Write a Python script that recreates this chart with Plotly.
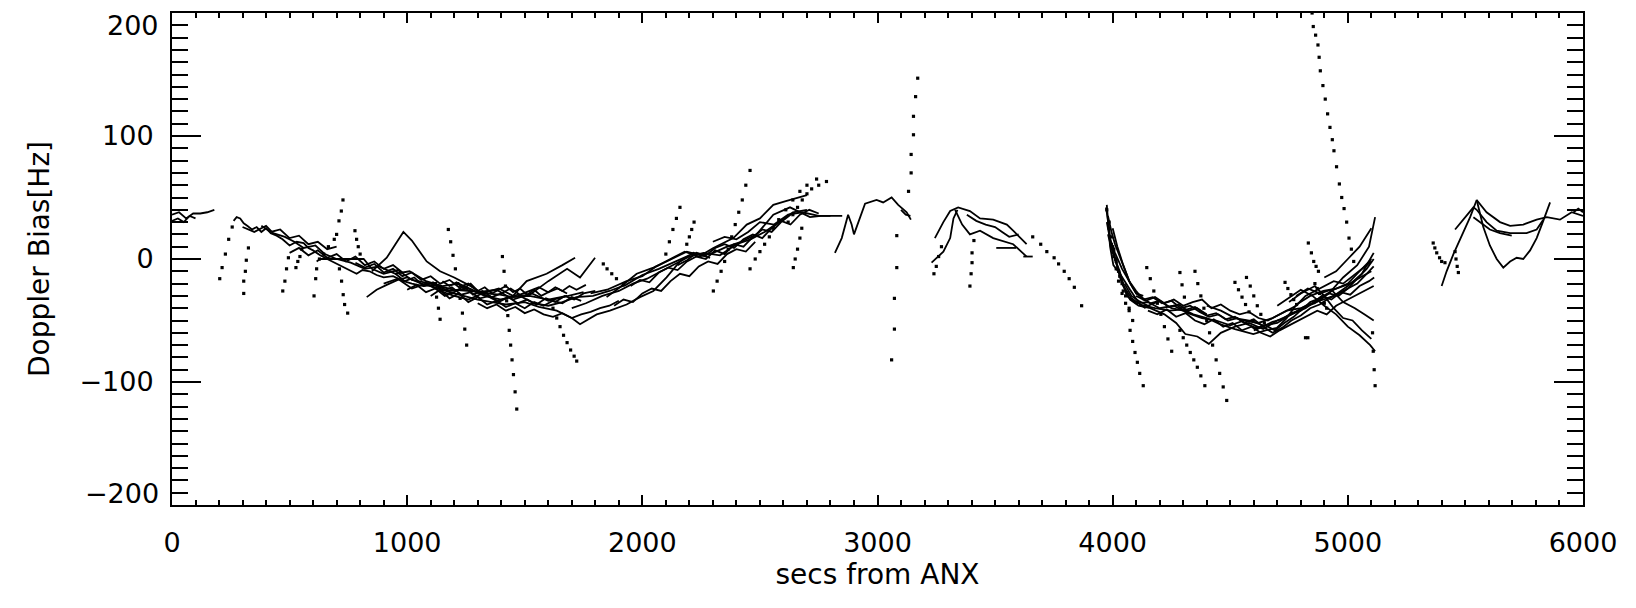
import plotly.graph_objects as go

# ---------------- solid (densely sampled) passes ----------------
# region 0 - 200 s
s01_x = [0, 30, 60, 90, 120, 150, 180]
s01_y = [36, 38, 33, 37, 37, 38, 40]
s02_x = [0, 25, 50, 75, 100]
s02_y = [31, 33, 30, 35, 33]

# region 260 - 2850 s
s03_x = [262, 275, 290, 305, 320, 340, 360, 380, 400, 420, 445, 470, 500, 530, 560, 580, 600, 630, 660, 690, 730, 760, 785, 810, 840, 870, 900, 940, 985, 1020, 1070, 1110, 1155, 1200, 1270, 1330, 1395, 1450, 1520, 1600, 1680]
s03_y = [31, 34, 33, 29, 27, 24, 26, 22, 25, 21, 19, 16, 11, 14, 13, 9, 7, 3, 0, -3, -7, -10, -12, -9, -10, -13, -15, -14, -18, -20, -22, -21, -23, -25, -26, -28, -29, -31, -30, -33, -30]
s04_x = [300, 350, 400, 430, 480, 520, 560, 610, 650, 700, 760, 820, 880, 950, 1010, 1080, 1150, 1220, 1300, 1380, 1450, 1530, 1600, 1680, 1750]
s04_y = [26, 22, 27, 21, 18, 14, 9, 11, 4, 0, -3, -8, -6, -12, -10, -18, -22, -20, -27, -25, -33, -28, -34, -30, -27]
s05_x = [615, 630, 700, 760, 815, 850, 900, 960, 1020, 1100, 1180, 1260, 1330, 1400, 1470, 1540, 1600, 1660, 1720, 1790, 1860, 1930, 2000, 2070, 2140, 2200]
s05_y = [-2, 0, 0, 0, 0, -8, -12, -9, -17, -20, -26, -24, -30, -33, -29, -36, -38, -35, -31, -30, -26, -21, -13, -8, -2, 3]
s06_x = [828, 870, 913, 960, 1000, 1060, 1120, 1180, 1240, 1300, 1360, 1420, 1500, 1560, 1636, 1700, 1735, 1806, 1862, 1933, 1990, 2047, 2103, 2160, 2217, 2288]
s06_y = [-31, -25, -21, -17, -15, -20, -23, -27, -30, -33, -35, -37, -35, -39, -42, -48, -53, -45, -42, -37, -31, -26, -15, -2, 5, 1]
s07_x = [850, 913, 950, 984, 1020, 1083, 1140, 1200, 1260, 1320, 1390, 1450, 1508, 1593, 1660, 1714]
s07_y = [-10, 1, 12, 22, 15, -2, -10, -15, -21, -28, -24, -30, -18, -12, -5, 1]
s08_x = [900, 960, 1020, 1080, 1140, 1200, 1260, 1320, 1380, 1440, 1522, 1600, 1680, 1735, 1799]
s08_y = [-20, -16, -24, -20, -26, -30, -33, -28, -34, -31, -29, -18, -8, -15, 1]
s09_x = [1848, 1905, 1976, 2047, 2103, 2189, 2250, 2302, 2387, 2444, 2500, 2557, 2610, 2670, 2700]
s09_y = [-31, -23, -12, -7, -2, 6, 3, 9, 17, 28, 33, 44, 47, 50, 52]
s10_x = [1780, 1850, 1933, 2000, 2060, 2120, 2180, 2240, 2302, 2360, 2420, 2486, 2557, 2628, 2713, 2760, 2800]
s10_y = [-28, -25, -18, -14, -6, 0, 6, 2, 5, 10, 14, 20, 36, 42, 34, 35, 35]
s11_x = [1700, 1760, 1830, 1900, 1960, 2020, 2080, 2140, 2200, 2260, 2330, 2400, 2460, 2520, 2580, 2640, 2700]
s11_y = [-40, -36, -30, -26, -20, -16, -10, -4, 2, 5, 3, 12, 16, 22, 30, 38, 40]
s12_x = [2300, 2350, 2400, 2450, 2500, 2560, 2620, 2680, 2750, 2810, 2850]
s12_y = [14, 18, 16, 22, 30, 28, 36, 38, 35, 35, 35]
s36_x = [950, 990, 1030, 1070, 1110, 1150, 1190, 1230, 1270, 1310, 1350, 1390, 1430, 1470, 1510, 1550, 1590, 1630, 1670, 1710, 1750, 1800]
s36_y = [-12, -18, -15, -22, -19, -26, -23, -29, -27, -32, -30, -35, -31, -36, -33, -37, -32, -35, -30, -33, -28, -26]
s37_x = [1000, 1040, 1080, 1120, 1160, 1200, 1240, 1280, 1320, 1360, 1400, 1440, 1480, 1520, 1560, 1600, 1640, 1680]
s37_y = [-25, -21, -27, -24, -30, -27, -22, -29, -26, -31, -28, -24, -29, -26, -23, -27, -24, -28]
s38_x = [1100, 1140, 1180, 1220, 1260, 1300, 1340, 1380, 1420, 1460, 1500, 1540, 1580, 1620, 1660, 1700, 1740]
s38_y = [-30, -25, -32, -28, -35, -31, -37, -34, -39, -36, -40, -35, -38, -34, -36, -31, -34]
s39_x = [500, 540, 580, 620, 660, 700, 740, 780, 820, 860, 900, 940, 980]
s39_y = [5, 9, 3, 7, 1, 4, -2, 2, -5, -2, -8, -5, -11]
s40_x = [380, 420, 460, 500, 540, 580, 620, 660, 700]
s40_y = [27, 22, 24, 17, 19, 12, 14, 8, 10]
s41_x = [1950, 1990, 2030, 2070, 2110, 2150, 2190, 2230, 2270, 2310, 2350, 2390, 2430, 2470, 2510, 2550, 2590, 2630]
s41_y = [-22, -17, -19, -11, -7, -9, -2, 2, 0, 7, 4, 12, 10, 18, 24, 22, 30, 36]
s45_x = [1150, 1180, 1210, 1240, 1270, 1300, 1330, 1360, 1390, 1420, 1450, 1480, 1510, 1540, 1570, 1600, 1630, 1660, 1690, 1720, 1760]
s45_y = [-18, -22, -19, -24, -20, -26, -23, -28, -25, -22, -27, -24, -29, -25, -30, -27, -23, -26, -22, -25, -21]
s46_x = [1300, 1340, 1380, 1420, 1460, 1500, 1540, 1580, 1620, 1660, 1700, 1740, 1780, 1820, 1860, 1900]
s46_y = [-36, -40, -37, -42, -39, -44, -41, -45, -47, -44, -48, -45, -43, -40, -38, -34]
s47_x = [780, 820, 860, 900, 940, 980, 1020, 1060, 1100, 1140, 1180, 1220, 1260, 1300]
s47_y = [-3, -7, -4, -11, -8, -14, -11, -17, -14, -20, -17, -23, -20, -26]
s48_x = [2150, 2190, 2230, 2270, 2310, 2350, 2390, 2430, 2470, 2510, 2550, 2590, 2630, 2670, 2710, 2750]
s48_y = [-5, -1, 5, 3, 9, 12, 9, 16, 20, 17, 25, 31, 28, 36, 40, 37]
s49_x = [1880, 1920, 1960, 2000, 2040, 2080, 2120, 2160, 2200, 2240, 2280, 2320, 2360, 2400, 2440, 2480]
s49_y = [-38, -33, -35, -28, -24, -26, -18, -12, -14, -6, -2, -4, 4, 8, 6, 14]

# region 2800 - 3150 s
s13_x = [2819, 2848, 2875, 2890, 2900, 2925, 2947, 2996, 3024, 3060, 3088, 3124, 3142]
s13_y = [5, 17, 36, 28, 20, 33, 45, 48, 46, 50, 44, 38, 32]
s14_x = [3100, 3120, 3140]
s14_y = [40, 36, 35]

# region 3230 - 3700 s
s15_x = [3244, 3280, 3309, 3343, 3393, 3436, 3492, 3550, 3577, 3634]
s15_y = [17, 30, 39, 42, 39, 33, 32, 28, 23, 12]
s16_x = [3330, 3360, 3393, 3436, 3492, 3577, 3634]
s16_y = [40, 28, 20, 23, 17, 12, 2]
s17_x = [3230, 3280, 3309, 3323, 3340]
s17_y = [-3, 6, 17, 33, 40]
s18_x = [3505, 3590]
s18_y = [9, 9]
s19_x = [3620, 3660]
s19_y = [2, 2]
s20_x = [3380, 3420, 3460, 3500, 3530, 3560, 3600]
s20_y = [36, 31, 28, 26, 22, 18, 20]

# region 3970 - 5120 s
s21_x = [3975, 3982, 3989, 4003, 4031, 4074, 4116, 4180, 4243, 4300, 4343, 4400, 4456, 4520, 4598, 4650, 4698, 4740, 4782, 4840, 4896, 4950, 5009, 5052, 5100]
s21_y = [44, 28, 10, -5, -12, -25, -37, -40, -42, -41, -45, -48, -53, -57, -61, -58, -56, -48, -37, -30, -26, -24, -20, -15, -10]
s22_x = [3975, 3990, 4010, 4040, 4074, 4110, 4160, 4220, 4270, 4309, 4360, 4409, 4460, 4520, 4580, 4640, 4700, 4760, 4820, 4880, 4940, 5000, 5060, 5110]
s22_y = [30, 15, 0, -20, -33, -38, -40, -45, -52, -61, -63, -69, -60, -55, -52, -57, -50, -45, -38, -34, -30, -22, -12, 5]
s23_x = [3980, 4000, 4030, 4060, 4100, 4150, 4200, 4260, 4320, 4380, 4440, 4500, 4560, 4620, 4680, 4740, 4800, 4860, 4920, 4980, 5040, 5090, 5116]
s23_y = [20, 5, -10, -30, -36, -35, -40, -38, -44, -48, -50, -54, -50, -52, -48, -42, -40, -36, -28, -15, -5, 10, 34]
s24_x = [4700, 4760, 4800, 4850, 4900, 4950, 5000, 5050, 5095, 5116]
s24_y = [-38, -30, -25, -30, -38, -45, -55, -62, -70, -75]
s25_x = [4750, 4800, 4860, 4900, 4940, 4980, 5020, 5060, 5100]
s25_y = [-35, -28, -22, -30, -40, -48, -50, -58, -65]
s26_x = [4780, 4830, 4880, 4930, 4980, 5030, 5070, 5110]
s26_y = [-30, -24, -28, -25, -35, -40, -45, -50]
s27_x = [4900, 4950, 5000, 5050, 5100]
s27_y = [-15, -10, 0, 10, 25]
s28_x = [4400, 4460, 4520, 4580, 4640, 4700, 4760, 4820, 4880, 4940, 5000, 5050, 5100]
s28_y = [-38, -42, -48, -50, -54, -52, -45, -40, -32, -25, -20, -10, 0]
s29_x = [4050, 4080, 4110, 4150, 4200, 4250, 4300, 4350, 4400]
s29_y = [-20, -30, -34, -38, -34, -40, -42, -39, -45]
s30_x = [3990, 4010, 4040, 4070, 4100, 4130]
s30_y = [15, 5, -8, -18, -28, -30]
s42_x = [3980, 3995, 4010, 4030, 4050, 4075, 4100, 4130, 4160, 4200, 4240, 4280, 4320, 4360, 4400, 4440, 4480, 4520, 4560, 4600, 4640, 4680, 4720, 4760, 4800, 4840, 4880, 4920, 4960, 5000, 5040, 5080, 5110]
s42_y = [35, 22, 12, 2, -8, -20, -28, -32, -36, -34, -39, -37, -42, -40, -46, -44, -49, -47, -52, -49, -55, -51, -49, -44, -42, -35, -32, -28, -30, -24, -20, -12, -6]
s43_x = [4000, 4020, 4045, 4070, 4100, 4130, 4170, 4210, 4250, 4290, 4330, 4370, 4410, 4450, 4490, 4530, 4570, 4610, 4650, 4690, 4730, 4770, 4810, 4850, 4890, 4930, 4970, 5010, 5050, 5090, 5112]
s43_y = [25, 10, -5, -18, -26, -33, -31, -36, -34, -40, -38, -43, -47, -45, -50, -48, -53, -56, -54, -58, -52, -47, -40, -36, -30, -33, -27, -29, -22, -18, -15]
s44_x = [4600, 4640, 4680, 4720, 4760, 4800, 4840, 4880, 4920, 4960, 5000, 5040, 5080, 5110]
s44_y = [-58, -55, -60, -56, -50, -46, -40, -37, -32, -28, -24, -16, -8, 0]
s50_x = [4100, 4140, 4180, 4220, 4260, 4300, 4340, 4380, 4420, 4460, 4500, 4540, 4580, 4620, 4660, 4700, 4740, 4780, 4820, 4860, 4900, 4940, 4980, 5020, 5060, 5100]
s50_y = [-30, -34, -31, -36, -33, -38, -35, -33, -40, -37, -42, -45, -43, -48, -50, -46, -42, -38, -30, -26, -22, -18, -20, -14, -8, -2]
s51_x = [4150, 4190, 4230, 4270, 4310, 4350, 4390, 4430, 4470, 4510, 4550, 4590, 4630, 4670, 4710, 4750, 4790, 4830, 4870, 4910, 4950, 4990, 5030, 5070, 5110]
s51_y = [-42, -45, -41, -47, -44, -50, -53, -49, -55, -52, -58, -55, -60, -63, -58, -54, -50, -46, -42, -45, -38, -34, -30, -26, -22]
s52_x = [3972, 3978, 3985, 3992, 4000, 4012, 4025, 4040, 4060, 4080, 4110, 4140]
s52_y = [42, 32, 24, 14, 8, -2, -10, -20, -26, -32, -36, -40]

# region 5380 - 6000 s
s31_x = [5399, 5420, 5449, 5484, 5520, 5548, 5590, 5647, 5690, 5746, 5803, 5846, 5902, 5952, 6000]
s31_y = [-22, -10, 4, 19, 34, 48, 38, 30, 27, 28, 32, 34, 32, 38, 35]
s32_x = [5456, 5500, 5534, 5548, 5590, 5633, 5690, 5760, 5803, 5831]
s32_y = [24, 34, 42, 40, 30, 23, 21, 21, 24, 32]
s33_x = [5534, 5560, 5604, 5647, 5697]
s33_y = [34, 30, 24, 21, 19]
s34_x = [5548, 5576, 5604, 5633, 5661, 5690, 5718, 5746, 5775, 5803, 5831, 5860]
s34_y = [48, 26, 11, 0, -7, -2, 1, 0, 7, 17, 31, 46]
s35_x = [5960, 5980, 6000]
s35_y = [38, 41, 38]

# ---------------- sparse (dotted) passes ----------------
d01_x = [203, 213, 227, 241, 256]
d01_y = [-16, -7, 4, 16, 26]
d02_x = [325, 316, 312, 305, 305]
d02_y = [9, -1, -10, -18, -28]
d03_x = [495, 487, 480, 471]
d03_y = [1, -8, -18, -26]
d05_x = [604, 611, 615, 627, 645, 665, 690, 700, 710, 720, 727]
d05_y = [-30, -16, -8, 0, 4, 10, 16, 20, 31, 39, 48]
d06_x = [778, 785, 792, 800]
d06_y = [23, 16, 10, 4]
d07_x = [712, 721, 728, 734, 747]
d07_y = [-8, -18, -29, -37, -44]
d08_x = [1175, 1185, 1195, 1205, 1215, 1225, 1235, 1245, 1253]
d08_y = [24, 14, 3, -8, -20, -32, -44, -57, -70]
d09_x = [1120, 1125, 1133, 1140]
d09_y = [-20, -31, -40, -49]
d10_x = [1405, 1412, 1418, 1423, 1428, 1434, 1440, 1446, 1452, 1459, 1466]
d10_y = [2, -10, -22, -34, -46, -58, -70, -82, -94, -108, -122]
d11_x = [1620, 1636, 1650, 1665, 1680, 1695, 1710, 1721]
d11_y = [-40, -48, -55, -62, -68, -74, -79, -83]
d12_x = [1834, 1850, 1870, 1890, 1919]
d12_y = [-4, -8, -12, -16, -21]
d13_x = [2302, 2318, 2335, 2350, 2365, 2380, 2395, 2410, 2425, 2440, 2458]
d13_y = [-26, -18, -10, -2, 8, 18, 28, 38, 48, 60, 72]
d14_x = [2458, 2480, 2500, 2520, 2540, 2557, 2580, 2610, 2640, 2670, 2700, 2741]
d14_y = [-8, 0, 6, 12, 18, 25, 32, 40, 48, 55, 60, 65]
d15_x = [2642, 2650, 2660, 2670, 2678]
d15_y = [-7, 0, 8, 17, 25]
d16_x = [2100, 2115, 2130, 2145, 2160]
d16_y = [4, 14, 24, 33, 42]
d17_x = [2189, 2200, 2210, 2220]
d17_y = [12, 18, 24, 30]
d19_x = [2620, 2640, 2660, 2680, 2700, 2720, 2750, 2783]
d19_y = [30, 36, 42, 48, 53, 57, 60, 63]
d42_x = [527, 535, 544, 552]
d42_y = [-7, -2, 2, 8]
d21_x = [3060, 3072, 3072, 3082, 3082]
d21_y = [-82, -57, -32, -7, 19]
d22_x = [3132, 3143, 3143, 3153, 3153, 3162, 3171]
d22_y = [55, 70, 85, 101, 116, 132, 147]
d23_x = [3393, 3398, 3402, 3402, 3410]
d23_y = [-22, -12, -3, 5, 15]
d24_x = [3660, 3694, 3720, 3751, 3770, 3794, 3815, 3837, 3868]
d24_y = [18, 12, 6, 1, -4, -10, -16, -23, -38]
d25_x = [3240, 3250, 3260, 3272]
d25_y = [-12, -6, 2, 10]
d26_x = [4074, 4085, 4095, 4105, 4115, 4130]
d26_y = [-58, -67, -76, -84, -93, -103]
d27_x = [4145, 4160, 4175, 4190, 4205, 4220, 4235, 4251]
d27_y = [-7, -16, -26, -36, -45, -55, -65, -75]
d28_x = [4286, 4295, 4305, 4315]
d28_y = [-11, -21, -31, -42]
d29_x = [4350, 4362, 4375, 4388, 4400, 4412, 4425, 4440, 4455, 4470, 4485]
d29_y = [-10, -20, -30, -40, -50, -60, -70, -82, -93, -104, -115]
d30_x = [4286, 4300, 4315, 4330, 4345, 4360, 4375, 4392]
d30_y = [-58, -64, -70, -76, -82, -88, -95, -103]
d31_x = [4520, 4535, 4550, 4565, 4580, 4597, 4612]
d31_y = [-19, -25, -31, -37, -43, -50, -56]
d32_x = [4569, 4585, 4600, 4615, 4630, 4645]
d32_y = [-15, -22, -30, -38, -45, -52]
d33_x = [4733, 4745, 4758, 4770, 4782]
d33_y = [-19, -24, -29, -33, -37]
d34_x = [4848, 4853, 4863, 4873, 4878, 4883, 4894, 4904, 4914, 4924, 4934, 4941, 4952, 4964, 4974, 4984, 4995, 5005, 5015, 5025]
d34_y = [200, 189, 182, 174, 164, 153, 141, 130, 118, 107, 97, 88, 75, 61, 50, 41, 30, 17, 8, -2]
d35_x = [4832, 4845, 4855, 4865, 4875]
d35_y = [13, 5, -2, -6, -10]
d36_x = [4820, 4830]
d36_y = [-64, -64]
d37_x = [5105, 5108, 5112, 5116]
d37_y = [-60, -75, -90, -103]
d38_x = [3975, 3985, 3995, 4005, 4015, 4030, 4045]
d38_y = [40, 30, 18, 8, -2, -14, -26]
d39_x = [5363, 5370, 5378, 5390, 5399, 5413]
d39_y = [13, 9, 5, 1, -2, -3]
d40_x = [5456, 5460, 5465, 5470]
d40_y = [6, 0, -6, -11]
d43_x = [3985, 3995, 4005, 4015, 4025, 4040, 4055, 4070]
d43_y = [25, 12, 2, -8, -18, -28, -36, -42]
d44_x = [4000, 4012, 4025, 4040, 4055, 4070, 4085]
d44_y = [10, 0, -10, -20, -30, -40, -50]
d45_x = [4860, 4870, 4880, 4890, 4900, 4910]
d45_y = [-20, -24, -28, -32, -36, -40]

SOLID = [
    (s01_x, s01_y), (s02_x, s02_y), (s03_x, s03_y), (s04_x, s04_y), (s05_x, s05_y),
    (s06_x, s06_y), (s07_x, s07_y), (s08_x, s08_y), (s09_x, s09_y), (s10_x, s10_y),
    (s11_x, s11_y), (s12_x, s12_y), (s13_x, s13_y), (s14_x, s14_y), (s15_x, s15_y),
    (s16_x, s16_y), (s17_x, s17_y), (s18_x, s18_y), (s19_x, s19_y), (s20_x, s20_y),
    (s21_x, s21_y), (s22_x, s22_y), (s23_x, s23_y), (s24_x, s24_y), (s25_x, s25_y),
    (s26_x, s26_y), (s27_x, s27_y), (s28_x, s28_y), (s29_x, s29_y), (s30_x, s30_y),
    (s31_x, s31_y), (s32_x, s32_y), (s33_x, s33_y), (s34_x, s34_y), (s35_x, s35_y),
    (s36_x, s36_y), (s37_x, s37_y), (s38_x, s38_y), (s39_x, s39_y), (s40_x, s40_y),
    (s41_x, s41_y), (s42_x, s42_y), (s43_x, s43_y), (s44_x, s44_y), (s45_x, s45_y),
    (s46_x, s46_y), (s47_x, s47_y), (s48_x, s48_y), (s49_x, s49_y), (s50_x, s50_y),
    (s51_x, s51_y), (s52_x, s52_y),
]
DOTTED = [
    (d01_x, d01_y), (d02_x, d02_y), (d03_x, d03_y), (d05_x, d05_y), (d06_x, d06_y),
    (d07_x, d07_y), (d08_x, d08_y), (d09_x, d09_y), (d10_x, d10_y), (d11_x, d11_y),
    (d12_x, d12_y), (d13_x, d13_y), (d14_x, d14_y), (d15_x, d15_y), (d16_x, d16_y),
    (d17_x, d17_y), (d19_x, d19_y), (d42_x, d42_y), (d21_x, d21_y), (d22_x, d22_y),
    (d23_x, d23_y), (d24_x, d24_y), (d25_x, d25_y), (d26_x, d26_y), (d27_x, d27_y),
    (d28_x, d28_y), (d29_x, d29_y), (d30_x, d30_y), (d31_x, d31_y), (d32_x, d32_y),
    (d33_x, d33_y), (d34_x, d34_y), (d35_x, d35_y), (d36_x, d36_y), (d37_x, d37_y),
    (d38_x, d38_y), (d39_x, d39_y), (d40_x, d40_y), (d43_x, d43_y), (d44_x, d44_y),
    (d45_x, d45_y),
]

X_TITLE = "secs from ANX"
Y_TITLE = "Doppler Bias[Hz]"
Y_TICKS = [-100, 0, 100]
Y_TICK_TEXT = ["\u2212100", "0", "100"]
Y_END_LABELS = [(190, "200"), (-191, "\u2212200")]

fig = go.Figure()
for xs, ys in SOLID:
    fig.add_trace(go.Scatter(x=xs, y=ys, mode="lines",
                             line=dict(color="black", width=1.8),
                             hoverinfo="skip", showlegend=False))
for xs, ys in DOTTED:
    fig.add_trace(go.Scatter(x=xs, y=ys, mode="markers",
                             marker=dict(color="black", size=3.2, symbol="square",
                                         line=dict(width=0)),
                             hoverinfo="skip", showlegend=False))

FONT = "DejaVu Sans"
TICK_SIZE = 27
# the page body adds an 8 px offset at left/top, so size and margins compensate
fig.update_layout(
    width=1628, height=600,
    paper_bgcolor="white", plot_bgcolor="white",
    margin=dict(l=164, r=53, t=5, b=103),
    font=dict(family=FONT, size=TICK_SIZE, color="black"),
    showlegend=False,
)
fig.update_xaxes(
    range=[0, 6000], tick0=0, dtick=1000, showgrid=False, zeroline=False,
    showline=True, linecolor="black", linewidth=2, mirror="ticks",
    ticks="inside", ticklen=10, tickwidth=2, tickcolor="black",
    minor=dict(dtick=100, ticks="inside", ticklen=5, tickwidth=2, tickcolor="black", showgrid=False),
    tickfont=dict(family=FONT, size=TICK_SIZE), ticklabelstandoff=13,
    ticklabeloverflow="allow",
    title=dict(text=X_TITLE, font=dict(family=FONT, size=28), standoff=6),
    automargin=False,
)
fig.update_yaxes(
    range=[-200, 200], tickmode="array", tickvals=Y_TICKS, ticktext=Y_TICK_TEXT,
    showgrid=False, zeroline=False,
    showline=True, linecolor="black", linewidth=2, mirror="ticks",
    ticks="inside", ticklen=29, tickwidth=2, tickcolor="black",
    minor=dict(tick0=0, dtick=10, ticks="inside", ticklen=16, tickwidth=2, tickcolor="black", showgrid=False),
    tickfont=dict(family=FONT, size=TICK_SIZE), ticklabelstandoff=11,
    title=dict(text=Y_TITLE, font=dict(family=FONT, size=28), standoff=22),
    automargin=False,
)
for yv, txt in Y_END_LABELS:
    fig.add_annotation(x=0, xref="paper", xanchor="right", xshift=-11,
                       y=yv, yref="y", yanchor="middle", showarrow=False,
                       text=txt, font=dict(family=FONT, size=TICK_SIZE, color="black"))

fig.write_html("out.html")
